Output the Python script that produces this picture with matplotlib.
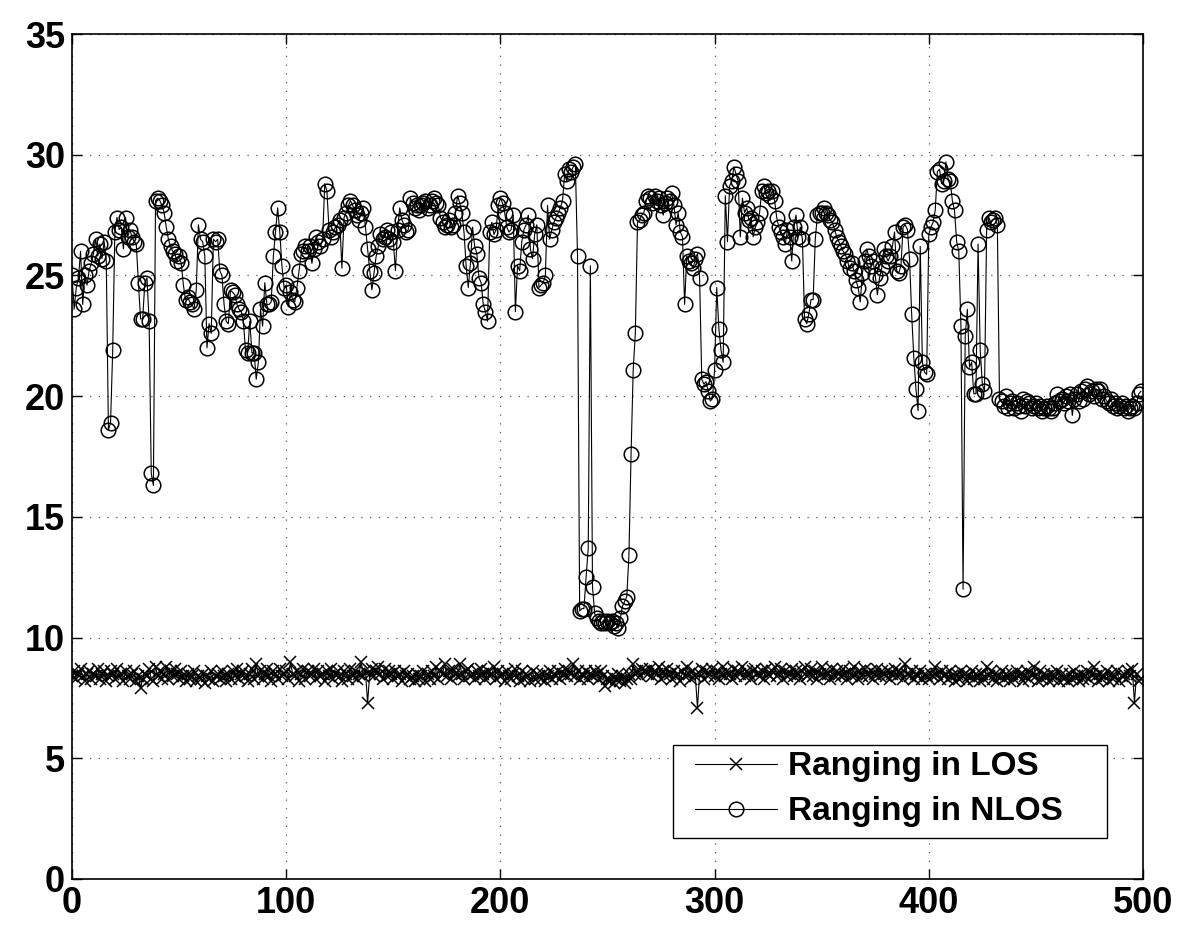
import numpy as np
import matplotlib
matplotlib.use("Agg")
import matplotlib.pyplot as plt
from matplotlib.patches import Rectangle

# ---------------- data ----------------
los = [
    8.4, 8.6, 8.3, 8.5, 8.7, 8.4, 8.2, 8.5, 8.6, 8.3, 8.5, 8.4, 8.7, 8.3, 8.5, 8.6, 8.2, 8.4, 8.6, 8.5,
    8.3, 8.7, 8.4, 8.5, 8.2, 8.6, 8.4, 8.3, 8.5, 8.6, 8.2, 8.4, 7.9, 8.3, 8.5, 8.4, 8.7, 8.3, 8.2, 8.8,
    8.4, 8.6, 8.3, 8.5, 8.8, 8.3, 8.6, 8.4, 8.7, 8.5, 8.3, 8.6, 8.4, 8.2, 8.5, 8.3, 8.4, 8.6, 8.2, 8.4,
    8.3, 8.5, 8.1, 8.4, 8.3, 8.6, 8.2, 8.4, 8.5, 8.3, 8.6, 8.4, 8.2, 8.5, 8.3, 8.6, 8.4, 8.7, 8.3, 8.5,
    8.6, 8.4, 8.2, 8.5, 8.7, 8.3, 8.9, 8.4, 8.6, 8.3, 8.5, 8.7, 8.4, 8.2, 8.6, 8.5, 8.3, 8.7, 8.4, 8.5,
    8.6, 8.3, 9.0, 8.5, 8.4, 8.6, 8.2, 8.5, 8.7, 8.3, 8.6, 8.4, 8.5, 8.7, 8.3, 8.6, 8.4, 8.5, 8.2, 8.6,
    8.4, 8.7, 8.3, 8.5, 8.6, 8.4, 8.2, 8.6, 8.5, 8.3, 8.7, 8.4, 8.6, 8.3, 8.5, 9.0, 8.4, 8.6, 7.3, 8.5,
    8.7, 8.4, 8.6, 8.8, 8.5, 8.3, 8.7, 8.4, 8.6, 8.5, 8.3, 8.6, 8.4, 8.5, 8.2, 8.6, 8.4, 8.5, 8.3, 8.4,
    8.2, 8.5, 8.3, 8.4, 8.6, 8.2, 8.5, 8.3, 8.6, 8.4, 8.8, 8.3, 8.6, 8.5, 8.9, 8.4, 8.6, 8.3, 8.7, 8.5,
    8.4, 8.9, 8.5, 8.3, 8.6, 8.7, 8.4, 8.5, 8.3, 8.6, 8.4, 8.7, 8.5, 8.3, 8.6, 8.4, 8.5, 8.8, 8.3, 8.6,
    8.4, 8.5, 8.2, 8.6, 8.4, 8.3, 8.5, 8.7, 8.4, 8.2, 8.6, 8.3, 8.5, 8.4, 8.2, 8.6, 8.3, 8.5, 8.4, 8.3,
    8.5, 8.2, 8.4, 8.6, 8.3, 8.5, 8.4, 8.6, 8.3, 8.5, 8.7, 8.4, 8.6, 8.5, 8.9, 8.4, 8.6, 8.3, 8.5, 8.4,
    8.6, 8.3, 8.5, 8.4, 8.6, 8.5, 8.3, 8.6, 8.4, 8.0, 8.3, 8.2, 8.4, 8.1, 8.3, 8.5, 8.2, 8.4, 8.1, 8.3,
    8.5, 8.3, 8.9, 8.5, 8.6, 8.4, 8.7, 8.6, 8.6, 8.5, 8.7, 8.4, 8.6, 8.5, 8.8, 8.3, 8.6, 8.4, 8.7, 8.5,
    8.3, 8.6, 8.4, 8.5, 8.2, 8.6, 8.4, 8.8, 8.5, 8.3, 8.6, 8.4, 7.1, 8.5, 8.7, 8.3, 8.6, 8.4, 8.5, 8.7,
    8.4, 8.6, 8.3, 8.5, 8.8, 8.4, 8.6, 8.5, 8.3, 8.7, 8.4, 8.6, 8.5, 8.8, 8.4, 8.6, 8.5, 8.3, 8.6, 8.7,
    8.5, 8.4, 8.6, 8.3, 8.7, 8.5, 8.4, 8.6, 8.8, 8.4, 8.5, 8.7, 8.3, 8.6, 8.4, 8.5, 8.7, 8.4, 8.6, 8.5,
    8.3, 8.6, 8.8, 8.4, 8.5, 8.7, 8.4, 8.6, 8.3, 8.5, 8.8, 8.4, 8.6, 8.5, 8.3, 8.7, 8.4, 8.6, 8.5, 8.4,
    8.7, 8.5, 8.3, 8.6, 8.4, 8.8, 8.5, 8.3, 8.6, 8.4, 8.7, 8.5, 8.4, 8.6, 8.3, 8.5, 8.7, 8.4, 8.6, 8.5,
    8.4, 8.6, 8.3, 8.5, 8.7, 8.4, 8.6, 8.5, 8.3, 8.9, 8.5, 8.4, 8.6, 8.3, 8.5, 8.4, 8.6, 8.3, 8.5, 8.4,
    8.3, 8.5, 8.4, 8.8, 8.5, 8.3, 8.6, 8.4, 8.5, 8.3, 8.6, 8.4, 8.2, 8.5, 8.3, 8.6, 8.4, 8.5, 8.2, 8.4,
    8.6, 8.3, 8.5, 8.4, 8.2, 8.5, 8.3, 8.8, 8.4, 8.6, 8.3, 8.5, 8.2, 8.4, 8.6, 8.3, 8.5, 8.4, 8.2, 8.5,
    8.3, 8.6, 8.4, 8.5, 8.2, 8.4, 8.6, 8.3, 8.5, 8.8, 8.4, 8.2, 8.6, 8.3, 8.5, 8.4, 8.2, 8.5, 8.3, 8.4,
    8.6, 8.2, 8.5, 8.3, 8.4, 8.2, 8.5, 8.3, 8.6, 8.4, 8.2, 8.5, 8.3, 8.4, 8.6, 8.3, 8.5, 8.8, 8.4, 8.2,
    8.5, 8.3, 8.4, 8.6, 8.2, 8.5, 8.3, 8.4, 8.6, 8.2, 8.4, 8.5, 8.3, 8.6, 8.4, 8.7, 7.3, 8.5, 8.2, 8.3,
]

nlos = [
    25.0, 23.6, 24.5, 24.9, 26.0, 23.8, 25.0, 24.6, 25.2, 25.5,
    25.9, 26.5, 25.8, 26.3, 25.7, 26.4, 25.6, 18.6, 18.9, 21.9,
    26.8, 27.4, 26.9, 27.0, 26.1, 27.4, 26.6, 26.9, 26.6, 26.4,
    26.3, 24.7, 23.2, 23.2, 24.7, 24.9, 23.1, 16.8, 16.3, 28.1,
    28.2, 28.1, 27.9, 27.6, 27.0, 26.5, 26.2, 26.0, 25.9, 25.6,
    25.8, 25.5, 24.6, 24.0, 24.1, 23.9, 23.8, 23.6, 24.4, 27.1,
    26.5, 26.4, 25.8, 22.0, 23.0, 22.6, 26.5, 26.4, 26.5, 25.2,
    25.0, 23.8, 23.1, 23.0, 24.4, 24.3, 24.2, 23.8, 23.6, 23.5,
    23.1, 21.9, 21.8, 23.1, 21.8, 21.8, 20.7, 21.4, 23.6, 22.9,
    24.7, 23.8, 23.8, 23.9, 25.8, 26.8, 27.8, 26.8, 25.4, 24.5,
    24.6, 23.7, 24.3, 24.0, 23.9, 24.5, 25.2, 25.9, 26.0, 26.2,
    26.0, 26.2, 25.5, 26.1, 26.6, 26.4, 26.2, 26.5, 28.8, 28.5,
    26.9, 26.6, 26.8, 27.0, 27.1, 27.3, 25.3, 27.4, 27.6, 27.9,
    28.1, 27.9, 27.7, 27.5, 27.3, 27.6, 27.8, 27.0, 26.1, 25.2,
    24.4, 25.1, 25.8, 26.2, 26.7, 26.5, 26.6, 26.9, 26.5, 26.8,
    26.4, 25.2, 26.9, 27.8, 27.3, 27.1, 26.8, 26.9, 28.2, 28.0,
    27.8, 27.9, 27.7, 27.9, 28.0, 28.1, 27.8, 27.9, 28.1, 28.2,
    28.0, 27.9, 27.4, 27.2, 27.0, 27.1, 27.3, 27.0, 27.1, 27.6,
    28.3, 28.0, 27.6, 26.8, 25.4, 24.5, 25.5, 27.0, 26.2, 25.9,
    24.9, 24.7, 23.8, 23.5, 23.1, 26.8, 27.2, 26.7, 26.9, 27.9,
    28.2, 28.0, 27.6, 27.0, 26.8, 26.9, 27.5, 23.5, 25.4, 25.2,
    26.4, 26.9, 27.1, 27.5, 26.1, 25.7, 26.7, 27.1, 24.5, 24.6,
    24.7, 25.0, 27.9, 26.5, 26.9, 27.2, 27.4, 27.6, 27.8, 28.1,
    29.2, 28.9, 29.4, 29.3, 29.5, 29.6, 25.8, 11.1, 11.2, 11.2,
    12.5, 13.7, 25.4, 12.1, 11.0, 10.8, 10.7, 10.6, 10.7, 10.6,
    10.7, 10.6, 10.7, 10.5, 10.6, 10.4, 10.8, 11.3, 11.5, 11.7,
    13.4, 17.6, 21.1, 22.6, 27.2, 27.3, 27.5, 27.6, 28.1, 28.3,
    28.2, 28.0, 28.3, 28.1, 28.2, 27.9, 27.5, 28.0, 28.2, 28.1,
    28.4, 27.9, 27.1, 27.6, 26.8, 26.6, 23.8, 25.8, 25.6, 25.5,
    25.3, 25.7, 25.9, 24.9, 20.7, 20.5, 20.6, 20.2, 19.8, 19.9,
    21.1, 24.5, 22.8, 21.9, 21.4, 28.3, 26.4, 28.7, 28.9, 29.5,
    29.2, 28.9, 26.6, 28.2, 27.6, 27.8, 27.3, 27.4, 26.6, 27.0,
    27.2, 27.6, 28.5, 28.7, 28.4, 28.5, 28.3, 28.5, 28.1, 27.4,
    27.0, 26.8, 26.6, 26.3, 26.9, 26.6, 25.6, 27.0, 27.5, 26.6,
    27.0, 26.5, 23.2, 23.0, 23.4, 24.0, 24.0, 26.5, 27.5, 27.6,
    27.6, 27.8, 27.6, 27.5, 27.3, 27.2, 26.9, 26.6, 26.4, 26.2,
    26.0, 25.9, 25.6, 25.3, 25.5, 25.2, 24.8, 24.5, 23.9, 25.1,
    25.6, 26.1, 25.8, 25.4, 25.6, 25.0, 24.2, 24.9, 25.3, 26.1,
    25.8, 25.6, 25.8, 26.2, 26.8, 25.2, 25.1, 25.4, 27.0, 27.1,
    26.9, 25.7, 23.4, 21.6, 20.3, 19.4, 26.2, 21.4, 21.0, 20.9,
    26.7, 27.0, 27.2, 27.7, 29.3, 29.4, 28.8, 28.9, 29.7, 29.0,
    28.9, 28.1, 27.7, 26.4, 26.0, 22.9, 12.0, 22.5, 23.6, 21.2,
    21.4, 20.1, 20.1, 26.3, 21.9, 20.5, 20.2, 26.9, 27.4, 27.2,
    27.3, 27.4, 27.1, 19.9, 19.8, 19.6, 20.0, 19.5, 19.7, 19.8,
    19.5, 19.7, 19.6, 19.4, 19.9, 19.6, 19.8, 19.7, 19.5, 19.6,
    19.7, 19.5, 19.6, 19.4, 19.5, 19.6, 19.5, 19.4, 19.5, 19.7,
    20.1, 19.8, 19.9, 19.7, 20.0, 19.8, 20.1, 19.2, 19.9, 20.1,
    19.8, 20.2, 19.9, 20.3, 20.4, 20.1, 20.2, 20.0, 20.3, 20.2,
    20.3, 19.9, 20.0, 19.8, 19.7, 19.9, 19.6, 19.7, 19.5, 19.6,
    19.7, 19.5, 19.6, 19.4, 19.5, 19.6, 19.5, 19.7, 20.1, 20.2,
]

labels = ["Ranging in LOS", "Ranging in NLOS"]
xticks = [0, 100, 200, 300, 400, 500]
yticks = [0, 5, 10, 15, 20, 25, 30, 35]

# ---------------- plot ----------------
plt.rcParams['font.family'] = ['Liberation Sans', 'DejaVu Sans']
fig = plt.figure(figsize=(12, 9.4), dpi=100)
ax = fig.add_axes([0.06, 0.0649, 0.8925, 0.8989])

x_los = np.arange(len(los))
x_nlos = np.arange(len(nlos))

ax.plot(x_los, los, color='black', linewidth=0.8, marker='x', markersize=8,
        markeredgewidth=1.1, label=labels[0])
ax.plot(x_nlos, nlos, color='black', linewidth=0.8, marker='o', markersize=10.5,
        markerfacecolor='none', markeredgewidth=1.1, label=labels[1])

ax.set_xlim(0, 500)
ax.set_ylim(0, 35)
ax.set_xticks(xticks)
ax.set_yticks(yticks)
ax.tick_params(direction='in', length=7, width=1.0, top=True, right=True,
               labelsize=26, pad=5)
for lab in ax.get_xticklabels() + ax.get_yticklabels():
    lab.set_fontweight('bold')

ax.grid(True, linestyle=(0, (1, 6)), linewidth=0.9, color='0.35')
for sp in ax.spines.values():
    sp.set_linewidth(1.2)

# legend frame (MATLAB-style box) drawn separately
frame = Rectangle((0.561, 0.0485), 0.405, 0.1101, transform=ax.transAxes,
                  facecolor='white', edgecolor='black', linewidth=1.0, zorder=4)
ax.add_patch(frame)
leg = ax.legend(loc='center left', bbox_to_anchor=(0.5817, 0.1060),
                borderaxespad=0, frameon=False,
                prop={'weight': 'bold', 'size': 24}, handlelength=2.46,
                handletextpad=0.33, labelspacing=0.42, borderpad=0.0)
leg.set_zorder(5)

fig.savefig('out.png', dpi=100)
